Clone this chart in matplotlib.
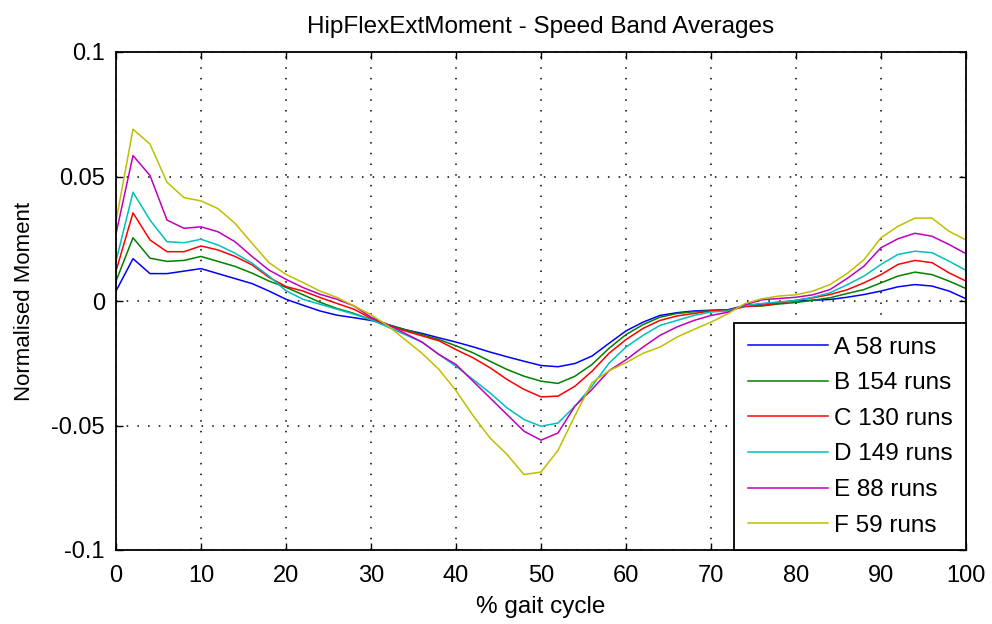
import matplotlib
matplotlib.use("Agg")
import matplotlib.pyplot as plt
import numpy as np

plt.rcParams['font.family'] = ['Liberation Sans', 'DejaVu Sans']

gait_pct = list(range(0, 101, 2))

labels = ["A 58 runs", "B 154 runs", "C 130 runs", "D 149 runs", "E 88 runs", "F 59 runs"]
colors = [(0, 0, 1), (0, 0.5, 0), (1, 0, 0), (0, 0.75, 0.75), (0.75, 0, 0.75), (0.75, 0.75, 0)]

band_A = [0.004, 0.017, 0.011, 0.011, 0.012, 0.013, 0.011, 0.009, 0.007, 0.0040,
          0.0007, -0.0017, -0.004, -0.0057, -0.0067, -0.0078, -0.0095, -0.0115, -0.013, -0.0148,
          -0.0165, -0.0184, -0.0205, -0.0224, -0.0242, -0.0259, -0.0264, -0.0251, -0.0221, -0.017,
          -0.012, -0.0085, -0.0058, -0.0047, -0.004, -0.0037, -0.0035, -0.0018, -0.0012, -0.0005,
          0.0, 0.0003, 0.0006, 0.0015, 0.0026, 0.004, 0.0057, 0.0066, 0.006, 0.004, 0.0009]
band_B = [0.008, 0.0254, 0.0172, 0.0159, 0.0163, 0.0179, 0.0159, 0.0139, 0.0112, 0.0080,
          0.0055, 0.0025, -0.0005, -0.003, -0.005, -0.0075, -0.0095, -0.0115, -0.0135, -0.0155,
          -0.018, -0.0208, -0.0242, -0.0275, -0.0302, -0.0322, -0.0331, -0.0302, -0.0255, -0.019,
          -0.0135, -0.0095, -0.0065, -0.005, -0.0043, -0.0039, -0.0036, -0.0022, -0.002, -0.0012,
          -0.0006, 0.0003, 0.0013, 0.003, 0.0046, 0.0073, 0.010, 0.0116, 0.0106, 0.008, 0.005]
band_C = [0.012, 0.0354, 0.0245, 0.0198, 0.0198, 0.0221, 0.0205, 0.0179, 0.0145, 0.0095,
          0.0058, 0.0040, 0.0014, -0.001, -0.0033, -0.007, -0.0098, -0.012, -0.014, -0.016,
          -0.0195, -0.0228, -0.0268, -0.0315, -0.0355, -0.0385, -0.0382, -0.0342, -0.0282, -0.021,
          -0.0155, -0.011, -0.0078, -0.006, -0.005, -0.004, -0.0038, -0.0022, -0.0018, -0.0008,
          0.0003, 0.0013, 0.0026, 0.0045, 0.0073, 0.0106, 0.0147, 0.0163, 0.0154, 0.0113, 0.008]
band_D = [0.016, 0.0437, 0.0325, 0.0238, 0.0234, 0.0248, 0.0225, 0.0192, 0.0152, 0.0100,
          0.0041, 0.0007, -0.0013, -0.0033, -0.0053, -0.0075, -0.0105, -0.0135, -0.0165, -0.0215,
          -0.0262, -0.0315, -0.0369, -0.0429, -0.0476, -0.0503, -0.049, -0.0422, -0.0342, -0.025,
          -0.0185, -0.0138, -0.0098, -0.0078, -0.0058, -0.0044, -0.004, -0.0018, -0.001, -0.0004,
          0.0002, 0.0015, 0.0033, 0.0065, 0.010, 0.0147, 0.0187, 0.020, 0.0194, 0.016, 0.0123]
band_E = [0.027, 0.0584, 0.0504, 0.0325, 0.0292, 0.0298, 0.0278, 0.0238, 0.0179, 0.0124,
          0.0087, 0.0054, 0.0027, 0.0007, -0.002, -0.0065, -0.0095, -0.013, -0.0165, -0.0215,
          -0.0255, -0.0322, -0.0389, -0.0456, -0.0523, -0.0559, -0.053, -0.0422, -0.0355, -0.028,
          -0.0236, -0.0185, -0.0138, -0.0104, -0.0078, -0.0058, -0.0045, -0.0015, 0.0005, 0.001,
          0.0015, 0.0025, 0.0046, 0.009, 0.014, 0.0214, 0.025, 0.0272, 0.026, 0.0227, 0.019]
band_F = [0.032, 0.069, 0.063, 0.0477, 0.0415, 0.0402, 0.0371, 0.0312, 0.0232, 0.0154,
          0.0107, 0.0074, 0.004, 0.0014, -0.002, -0.0055, -0.010, -0.0155, -0.021, -0.0275,
          -0.036, -0.046, -0.055, -0.0616, -0.0697, -0.0687, -0.060, -0.046, -0.0328, -0.028,
          -0.0248, -0.021, -0.0185, -0.0145, -0.0114, -0.0085, -0.0051, -0.001, 0.0009, 0.002,
          0.0025, 0.004, 0.0066, 0.011, 0.0166, 0.0254, 0.030, 0.0333, 0.0333, 0.028, 0.0245]

series = [band_A, band_B, band_C, band_D, band_E, band_F]

x_ticks = [0, 10, 20, 30, 40, 50, 60, 70, 80, 90, 100]
y_ticks = [-0.1, -0.05, 0, 0.05, 0.1]
y_tick_labels = ["-0.1", "-0.05", "0", "0.05", "0.1"]

fig = plt.figure(figsize=(9.92, 6.24), dpi=100)
ax = fig.add_axes([116/992, 1 - 550/624, (966-116)/992, (550-52)/624])

for vals, c, lab in zip(series, colors, labels):
    ax.plot(gait_pct, vals, color=c, lw=1.1, label=lab)

ax.set_xlim(0, 100)
ax.set_ylim(-0.1, 0.1)
ax.set_xticks(x_ticks)
ax.set_yticks(y_ticks)
ax.set_yticklabels(y_tick_labels)
ax.grid(True, color='black', linestyle=(0, (1, 6)), linewidth=1.1)
ax.tick_params(direction='in', length=5, width=1, top=True, right=True,
               labelsize=17, colors='black')
ax.tick_params(axis='x', pad=11)
ax.tick_params(axis='y', pad=8)
for s in ax.spines.values():
    s.set_linewidth(1.3)

ax.set_title("HipFlexExtMoment - Speed Band Averages", fontsize=17.5, pad=14)
ax.set_xlabel("% gait cycle", fontsize=17.5, labelpad=6)
ax.set_ylabel("Normalised Moment", fontsize=16, labelpad=12)

leg = ax.legend(loc='lower right', fontsize=17.5, borderaxespad=0, fancybox=False,
                edgecolor='black', framealpha=1, handlelength=3.3, handletextpad=0.25,
                labelspacing=0.56, borderpad=0.55)
leg.get_frame().set_linewidth(1.3)

fig.savefig("out.png", dpi=100)
